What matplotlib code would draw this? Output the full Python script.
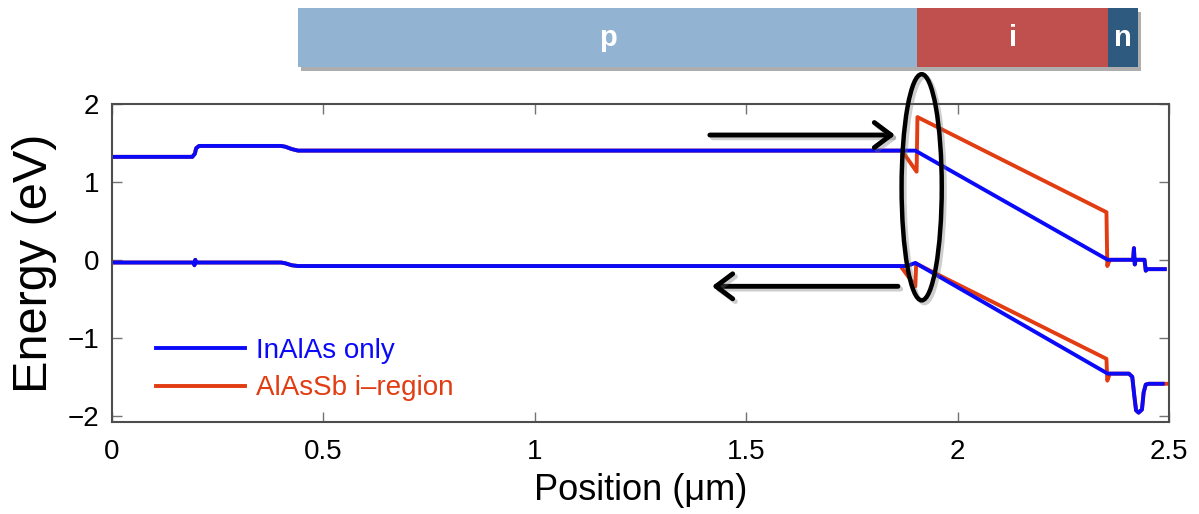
import matplotlib
matplotlib.use("Agg")
import matplotlib.pyplot as plt
import matplotlib.patheffects as pe
from matplotlib.patches import Ellipse

plt.rcParams['font.family'] = ['Liberation Sans', 'DejaVu Sans']

# Band edges along the device (position in um, energy in eV)
inalas_cb_x = [0.0, 0.190, 0.196, 0.199, 0.206, 0.40, 0.41, 0.425, 0.44, 1.900, 2.355,
               2.415, 2.417, 2.419, 2.421, 2.442, 2.445, 2.448, 2.49]
inalas_cb_y = [1.32, 1.32, 1.36, 1.43, 1.46, 1.46, 1.45, 1.42, 1.40, 1.40, 0.00,
               0.00, 0.15, -0.06, 0.00, 0.00, -0.14, -0.12, -0.12]

inalas_vb_x = [0.0, 0.193, 0.195, 0.197, 0.199, 0.40, 0.41, 0.425, 0.44, 1.880, 1.900, 2.355,
               2.405, 2.413, 2.418, 2.422, 2.428, 2.436, 2.440, 2.445, 2.452, 2.485]
inalas_vb_y = [-0.035, -0.035, -0.07, 0.0, -0.035, -0.035, -0.045, -0.07, -0.08, -0.08, -0.04, -1.46,
               -1.46, -1.50, -1.75, -1.93, -1.96, -1.92, -1.70, -1.60, -1.59, -1.59]

alassb_cb_x = [0.0, 0.190, 0.196, 0.199, 0.206, 0.40, 0.41, 0.425, 0.44, 1.868, 1.903, 1.905,
               2.352, 2.354, 2.360, 2.415, 2.417, 2.419, 2.421, 2.442, 2.445, 2.448, 2.49]
alassb_cb_y = [1.32, 1.32, 1.36, 1.43, 1.46, 1.46, 1.45, 1.42, 1.40, 1.40, 1.13, 1.83,
               0.61, -0.08, 0.00, 0.00, 0.15, -0.06, 0.00, 0.00, -0.14, -0.12, -0.12]

alassb_vb_x = [0.0, 0.193, 0.195, 0.197, 0.199, 0.40, 0.41, 0.425, 0.44, 1.865, 1.900, 1.902,
               2.352, 2.354, 2.360, 2.405, 2.413, 2.418, 2.422, 2.428, 2.436, 2.440, 2.445, 2.452, 2.50]
alassb_vb_y = [-0.035, -0.035, -0.07, 0.0, -0.035, -0.035, -0.045, -0.07, -0.08, -0.08, -0.34, -0.05,
               -1.27, -1.55, -1.46, -1.46, -1.50, -1.75, -1.93, -1.96, -1.92, -1.70, -1.60, -1.59, -1.59]

# Doping regions of the p-i-n stack
region_names = ['p', 'i', 'n']
region_start = [0.440, 1.904, 2.356]
region_end = [1.904, 2.356, 2.427]
region_colors = ['#93B3D3', '#C0504D', '#2E5A80']

BLUE = '#0A0AF8'
RED = '#E23C12'

fig = plt.figure(figsize=(11.99, 5.14), dpi=100)
ax = fig.add_axes([0.0934, 0.179, 0.8816, 0.619])

ax.plot(alassb_cb_x, alassb_cb_y, color=RED, lw=2.8, label='AlAsSb i\u2013region')
ax.plot(alassb_vb_x, alassb_vb_y, color=RED, lw=2.8)
ax.plot(inalas_cb_x, inalas_cb_y, color=BLUE, lw=2.8, label='InAlAs only')
ax.plot(inalas_vb_x, inalas_vb_y, color=BLUE, lw=2.8)

handles, labels = ax.get_legend_handles_labels()
ax.legend(handles[::-1], labels[::-1], loc='upper left', bbox_to_anchor=(0.0416, 0.265),
          frameon=False, fontsize=20, labelcolor='linecolor', handlelength=3.2,
          handletextpad=0.4, labelspacing=0.42, borderpad=0, borderaxespad=0)

# soft offset outline, no fill
shadow = [pe.Stroke(offset=(2, -2), foreground='0.45', alpha=0.35), pe.Normal()]

# Arrows pointing at the heterointerface
for start, end in [((1.414, 1.60), (1.852, 1.60)), ((1.859, -0.34), (1.419, -0.34))]:
    ann = ax.annotate('', xy=end, xytext=start,
                      arrowprops=dict(arrowstyle='->,head_length=0.6,head_width=0.45',
                                      lw=3.5, color='black', mutation_scale=20,
                                      shrinkA=0, shrinkB=0))
    ann.arrow_patch.set_path_effects(shadow)

ring = Ellipse((1.915, 0.93), 0.095, 2.90, fill=False, ec='black', lw=3.2,
               clip_on=False, zorder=5)
ring.set_path_effects(shadow)
ax.add_patch(ring)

ax.set_xlim(0, 2.5)
ax.set_ylim(-2.08, 2)
ax.set_xticks([0, 0.5, 1, 1.5, 2, 2.5])
ax.set_xticklabels(['0', '0.5', '1', '1.5', '2', '2.5'])
ax.set_yticks([-2, -1, 0, 1, 2])
ax.tick_params(direction='in', length=7, width=1, color='0.45', top=True, right=True,
               labelsize=20)
ax.tick_params(axis='x', pad=12)
ax.tick_params(axis='y', pad=9)
for sp in ax.spines.values():
    sp.set_color('0.3')
    sp.set_linewidth(1.5)

ax.set_xlabel('Position (\u03bcm)', fontsize=26, labelpad=6)
ax.set_ylabel('Energy (eV)', fontsize=35, labelpad=8)

# Region bar above the plot, on the same position scale
top = fig.add_axes([0.0934, 0.8696, 0.8816, 0.1148], sharex=ax)
bar_shadow = [pe.withSimplePatchShadow(offset=(2, -3), shadow_rgbFace='0.3', alpha=0.45)]
for name, x0, x1, c in zip(region_names, region_start, region_end, region_colors):
    b = top.barh(0.5, x1 - x0, left=x0, height=1, color=c, linewidth=0)[0]
    b.set_clip_on(False)
    b.set_path_effects(bar_shadow)
    top.text((x0 + x1) / 2, 0.5, name, color='white', fontsize=21, fontweight='bold',
             ha='center', va='center')
top.set_ylim(0, 1)
top.axis('off')
ax.set_xlim(0, 2.5)

fig.savefig('out.png', dpi=100)
